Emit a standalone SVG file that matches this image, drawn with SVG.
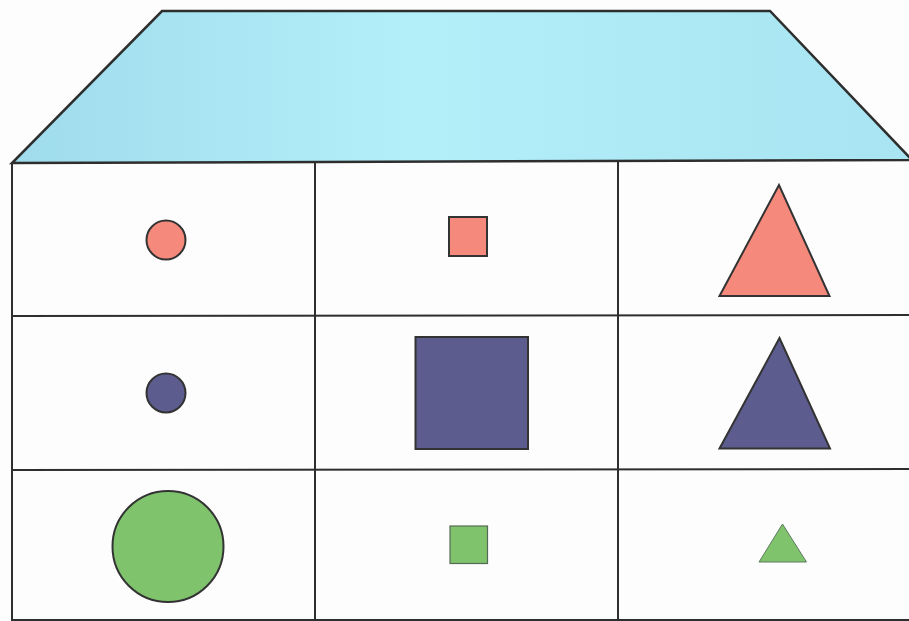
<svg xmlns="http://www.w3.org/2000/svg" width="909" height="621" viewBox="0 0 909 621">
<defs>
<linearGradient id="roofG" x1="0" y1="0" x2="1" y2="0">
<stop offset="0" stop-color="#9fdcec"/>
<stop offset="0.45" stop-color="#b3eff9"/>
<stop offset="1" stop-color="#a8e4f1"/>
</linearGradient>
</defs>
<style>
.line{stroke:#2e2e2e;stroke-width:2;fill:none}
.roof{stroke:#2e2e2e;stroke-width:2.5;fill:url(#roofG);stroke-linejoin:miter}
.sh{stroke:#333;stroke-width:2}
.red{fill:#f58a7c}
.blue{fill:#5c5c8f}
.green{fill:#7fc36c}
</style>
<rect width="909" height="621" fill="#fdfdfd"/>
<g id="roof">
<polygon class="roof" points="162,11 770,11 912,160 12,163"/>
</g>
<g id="grid">
<line class="line" x1="12" y1="163" x2="12" y2="621"/>
<line class="line" x1="315" y1="163" x2="315" y2="621"/>
<line class="line" x1="618" y1="162" x2="618" y2="621"/>
<line class="line" x1="12" y1="316" x2="909" y2="315"/>
<line class="line" x1="12" y1="470" x2="909" y2="469"/>
<line class="line" x1="12" y1="620" x2="909" y2="620"/>
</g>
<g id="red-circle"><circle class="sh red" cx="166" cy="240" r="19.5" stroke-width="1.5"/></g>
<g id="red-square"><rect class="sh red" x="449" y="217" width="38" height="39" stroke-width="1.5"/></g>
<g id="red-triangle"><polygon class="sh red" points="779,185 719.5,296 829.5,296"/></g>
<g id="blue-circle"><circle class="sh blue" cx="166" cy="393" r="19.5" stroke-width="1.5"/></g>
<g id="blue-square"><rect class="sh blue" x="415.5" y="337" width="112.5" height="112"/></g>
<g id="blue-triangle"><polygon class="sh blue" points="779.5,338 719.5,448.5 830,448.5"/></g>
<g id="green-circle"><circle class="sh green" cx="168" cy="546.5" r="55.5"/></g>
<g id="green-square"><rect class="green" x="450" y="526" width="37.5" height="37.5" stroke="#556b55" stroke-width="1.2"/></g>
<g id="green-triangle"><polygon class="green" points="782.5,524 759,562 806.5,562" stroke="#5f7a5f" stroke-width="1"/></g>
</svg>
